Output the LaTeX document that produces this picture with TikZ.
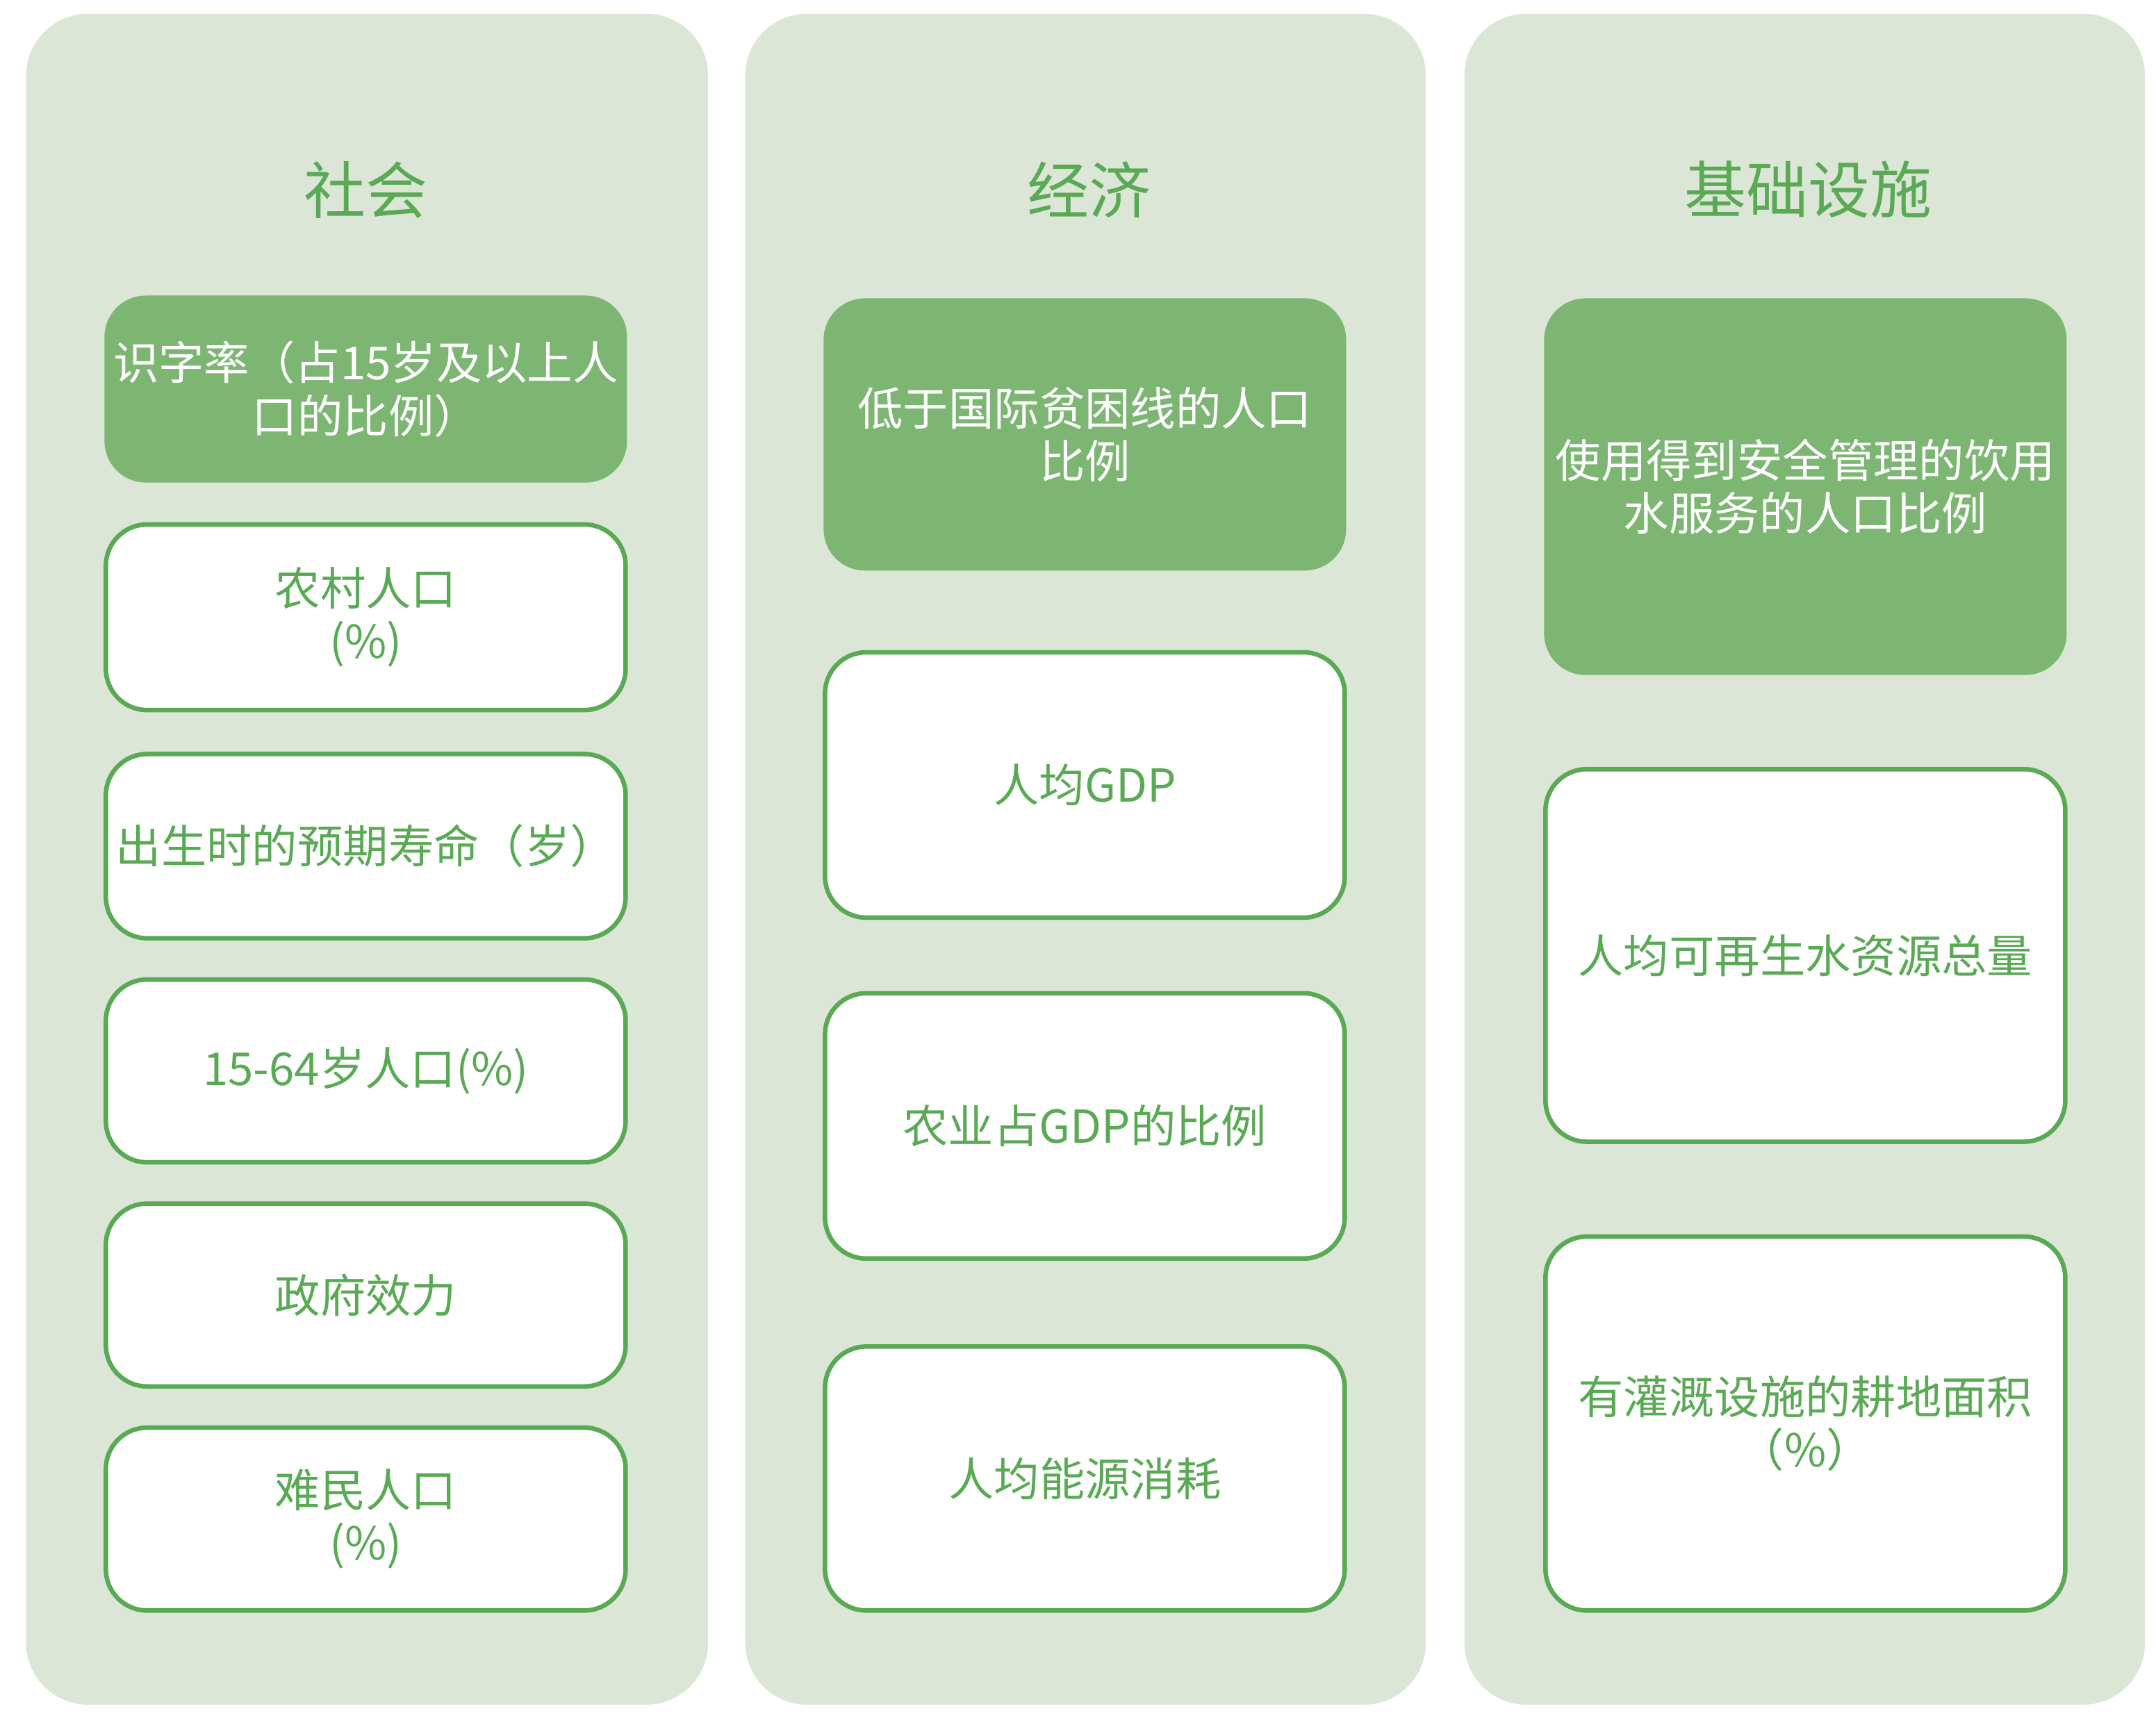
\documentclass[tikz,border=0pt]{standalone}
\usepackage{fontspec}
\setmainfont{Noto Sans CJK SC}
\usepackage{xcolor}
\usetikzlibrary{positioning}

\definecolor{panelgreen}{RGB}{219,230,214}
\definecolor{boxgreen}{RGB}{124,182,114}
\definecolor{linegreen}{RGB}{90,170,85}

\tikzset{
  panel/.style={fill=panelgreen, rounded corners=4.5mm},
  head/.style={text=linegreen, font=\fontsize{12.8}{15}\selectfont},
  hibox/.style={fill=boxgreen, rounded corners=3mm, text=white, align=center,
    minimum width=38mm, inner sep=0pt, font=\fontsize{9.4}{11}\selectfont},
  lobox/.style={draw=linegreen, line width=0.33mm, fill=white, rounded corners=3mm,
    text=linegreen, align=center, minimum width=37.8mm, inner sep=0pt,
    font=\fontsize{9.4}{11}\selectfont}
}

\begin{document}
\begin{tikzpicture}[x=0.1mm, y=-0.1mm]
\useasboundingbox (0,0) rectangle (1568,1251);

% Column panels
\fill[panel] (19,10) rectangle (515,1240);
\fill[panel] (542,10) rectangle (1037,1240);
\fill[panel] (1065,10) rectangle (1560,1240);

% Headings
\node[head] (socHead) at (266,138) {社会};
\node[head] (ecoHead) at (792,138) {经济};
\node[head] (infHead) at (1315,138) {基础设施};

% Social column
\node[hibox, minimum height=13.6mm] (soc1) at (266,283) {识字率（占15岁及以上人\\口的比例）};
\node[lobox, minimum height=13.5mm] (soc2) at (266,449) {农村人口\\(\%)};
\node[lobox, minimum height=13.4mm] (soc3) at (266,615.5) {出生时的预期寿命（岁）};
\node[lobox, minimum height=13.3mm] (soc4) at (266,779) {15-64岁人口(\%)};
\node[lobox, minimum height=13.3mm] (soc5) at (266,942) {政府效力};
\node[lobox, minimum height=13.3mm] (soc6) at (266,1105) {难民人口\\(\%)};

% Economy column
\node[hibox, minimum height=19.8mm] (eco1) at (789,316) {低于国际贫困线的人口\\比例};
\node[lobox, minimum height=19.3mm] (eco2) at (789,571) {人均GDP};
\node[lobox, minimum height=19.3mm] (eco3) at (789,819) {农业占GDP的比例};
\node[lobox, minimum height=19.2mm] (eco4) at (789,1075.5) {人均能源消耗};

% Infrastructure column
\node[hibox, minimum height=27.4mm] (inf1) at (1313,354) {使用得到安全管理的饮用\\水服务的人口比例};
\node[lobox, minimum height=27.1mm] (inf2) at (1313,695) {人均可再生水资源总量};
\node[lobox, minimum height=27.2mm] (inf3) at (1313,1035.5) {有灌溉设施的耕地面积\\（\%）};

\end{tikzpicture}
\end{document}
